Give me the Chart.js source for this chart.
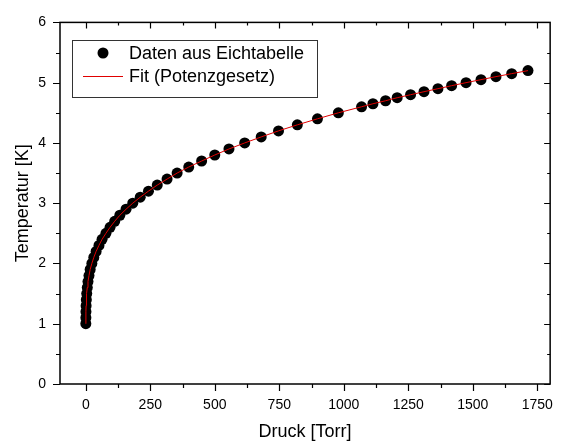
<!DOCTYPE html>
<html>
<head>
<meta charset="utf-8">
<script src="https://cdn.jsdelivr.net/npm/chart.js@4"></script>
<style>
  html, body { margin: 0; padding: 0; background: #fff; }
  #wrap { width: 566px; height: 445px; }
</style>
</head>
<body>
<div id="wrap"><canvas id="tempChart" width="566" height="445"></canvas></div>
<script>
// calibration table
const tempK = [
    1.0, 1.1, 1.2, 1.3, 1.4, 1.5, 1.6, 1.7, 1.8, 1.9,
    2.0, 2.1, 2.2, 2.3, 2.4, 2.5, 2.6, 2.7, 2.8, 2.9,
    3.0, 3.1, 3.2, 3.3, 3.4, 3.5, 3.6, 3.7, 3.8, 3.9,
    4.0, 4.1, 4.2, 4.3, 4.4, 4.5, 4.6, 4.65, 4.7, 4.75,
    4.8, 4.85, 4.9, 4.95, 5.0, 5.05, 5.1, 5.15, 5.2
];
const pressureTorr = [
    0.12, 0.28, 0.63, 1.2, 2.1, 3.6, 5.7, 8.5, 12.4, 17,
    23.5, 31, 40, 51, 63, 78, 94, 112, 132, 156,
    182, 211, 243, 277, 315, 354, 399, 449, 500, 555,
    616, 680, 747, 820, 898, 979, 1069, 1113, 1162, 1207,
    1259, 1311, 1365, 1418, 1474, 1532, 1590, 1651, 1714
];

// tick labels
const xMajorTicks = [0, 250, 500, 750, 1000, 1250, 1500, 1750];
const xMinorTicks = [125, 375, 625, 875, 1125, 1375, 1625];
const yMajorTicks = [0, 1, 2, 3, 4, 5, 6];
const yMinorTicks = [0.5, 1.5, 2.5, 3.5, 4.5, 5.5];

const legendLabels = ["Daten aus Eichtabelle", "Fit (Potenzgesetz)"];

const FONT = "'Liberation Sans', Arial, sans-serif";

const points = pressureTorr.map((p, i) => ({ x: p, y: tempK[i] }));

// frame, tick marks and legend box
const framePlugin = {
    id: "frame",
    afterDraw(chart) {
        const ctx = chart.ctx;
        const area = chart.chartArea;
        const xs = chart.scales.x;
        const ys = chart.scales.y;

        ctx.save();
        ctx.strokeStyle = "#000";
        ctx.lineWidth = 1.5;
        ctx.strokeRect(area.left, area.top,
            area.right - area.left, area.bottom - area.top);

        ctx.lineWidth = 1.2;
        ctx.beginPath();
        const xTick = (v, len) => {
            const px = Math.round(xs.getPixelForValue(v)) + 0.5;
            ctx.moveTo(px, area.bottom);
            ctx.lineTo(px, area.bottom + len);
            ctx.moveTo(px, area.top);
            ctx.lineTo(px, area.top + len - 1);
        };
        const yTick = (v, len) => {
            const py = Math.round(ys.getPixelForValue(v)) + 0.5;
            ctx.moveTo(area.left, py);
            ctx.lineTo(area.left - len, py);
            ctx.moveTo(area.right, py);
            ctx.lineTo(area.right - len + 1, py);
        };
        xMajorTicks.forEach(v => xTick(v, 7));
        xMinorTicks.forEach(v => xTick(v, 4));
        yMajorTicks.forEach(v => yTick(v, 7));
        yMinorTicks.forEach(v => yTick(v, 4));
        ctx.stroke();

        // legend
        ctx.lineWidth = 1;
        ctx.strokeStyle = "#333";
        ctx.strokeRect(72.5, 40.5, 245, 57);

        ctx.fillStyle = "#000";
        ctx.beginPath();
        ctx.arc(103, 53, 5.5, 0, Math.PI * 2);
        ctx.fill();

        ctx.strokeStyle = "#e00000";
        ctx.beginPath();
        ctx.moveTo(83, 76.5);
        ctx.lineTo(123, 76.5);
        ctx.stroke();

        ctx.font = "18px " + FONT;
        ctx.textBaseline = "middle";
        ctx.fillStyle = "#000";
        ctx.fillText(legendLabels[0], 129, 54);
        ctx.fillText(legendLabels[1], 129, 77);
        ctx.restore();
    }
};

const tempChart = new Chart(
    document.getElementById("tempChart").getContext("2d"),
    {
        type: "scatter",
        data: {
            datasets: [
                {
                    label: legendLabels[1],
                    data: points,
                    showLine: true,
                    borderColor: "#e00000",
                    borderWidth: 1,
                    pointRadius: 0,
                    tension: 0,
                    order: 0
                },
                {
                    label: legendLabels[0],
                    data: points,
                    backgroundColor: "#000",
                    borderColor: "#000",
                    pointRadius: 5.5,
                    pointBorderWidth: 0,
                    order: 1
                }
            ]
        },
        options: {
            responsive: false,
            animation: false,
            devicePixelRatio: 1,
            layout: {
                padding: { top: 19, right: 7, left: 0, bottom: 0 }
            },
            plugins: {
                legend: { display: false },
                tooltip: { enabled: false }
            },
            scales: {
                x: {
                    type: "linear",
                    min: -100,
                    max: 1800,
                    afterBuildTicks: scale => {
                        scale.ticks = xMajorTicks.map(v => ({ value: v }));
                    },
                    afterFit: scale => { scale.height = 61; },
                    grid: { display: false, drawTicks: false },
                    border: { display: false },
                    ticks: {
                        autoSkip: false,
                        maxRotation: 0,
                        padding: 13,
                        color: "#000",
                        font: { family: FONT, size: 14 },
                        callback: v => String(v)
                    },
                    title: {
                        display: true,
                        text: "Druck [Torr]",
                        color: "#000",
                        font: { family: FONT, size: 18 },
                        padding: { top: 0, bottom: 2 }
                    }
                },
                y: {
                    type: "linear",
                    min: 0,
                    max: 6,
                    afterBuildTicks: scale => {
                        scale.ticks = yMajorTicks.map(v => ({ value: v }));
                    },
                    afterFit: scale => { scale.width = 60; },
                    grid: { display: false, drawTicks: false },
                    border: { display: false },
                    ticks: {
                        autoSkip: false,
                        padding: 14,
                        color: "#000",
                        font: { family: FONT, size: 14 },
                        callback: v => String(v)
                    },
                    title: {
                        display: true,
                        text: "Temperatur [K]",
                        color: "#000",
                        font: { family: FONT, size: 18 },
                        padding: { top: 12, bottom: 0 }
                    }
                }
            }
        },
        plugins: [framePlugin]
    }
);
</script>
</body>
</html>
